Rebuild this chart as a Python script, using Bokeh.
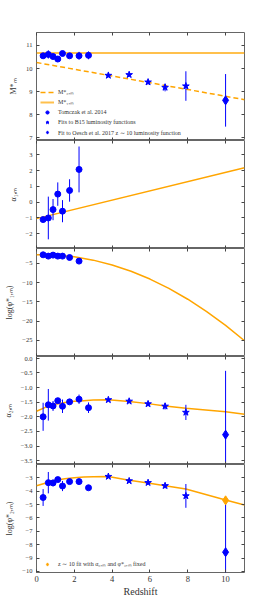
import numpy as np
from bokeh.plotting import figure
from bokeh.models import Range1d, LinearAxis, FixedTicker, CustomJSTickFormatter, Legend, LegendItem
from bokeh.layouts import column
from bokeh.embed import file_html
from bokeh.resources import INLINE

# ---------------- data ----------------
tom_z = [0.35, 0.625, 0.875, 1.125, 1.375, 1.75, 2.25, 2.75]
b15_z = [3.8, 4.9, 5.9, 6.8, 7.9]
oesch_z = [10.0]

# panel 1 : M*_M
tom_m = [10.55, 10.61, 10.52, 10.41, 10.65, 10.55, 10.55, 10.57]
tom_m_err = [0.05, 0.18, 0.08, 0.05, 0.1, 0.05, 0.17, 0.17]
b15_m = [9.70, 9.73, 9.41, 9.18, 9.24]
b15_m_err = [0.08, 0.08, 0.1, 0.17, 0.64]
oesch_m = [8.62]
oesch_m_err = [1.14]
m1_fit_z = [0.0, 11.0]
m1_fit = [10.67, 10.67]
m2_fit_z = [0.0, 11.0]
m2_fit = [10.26, 8.65]

# panel 2 : alpha_1,M
tom_a1_z = [0.35, 0.625, 0.875, 1.125, 1.375, 1.75, 2.25]
tom_a1 = [-1.1, -1.0, -0.47, 0.51, -0.57, 0.74, 2.07]
tom_a1_err = [0.15, 1.35, 0.67, 0.74, 0.7, 0.71, 1.45]
a1_fit_z = [0.0, 11.0]
a1_fit = [-1.04, 2.18]

# panel 3 : log(phi*_1,M)
tom_p1_z = [0.35, 0.625, 0.875, 1.125, 1.375, 1.75, 2.25]
tom_p1 = [-2.74, -3.08, -2.82, -3.08, -3.08, -3.44, -4.38]
p1_fit_z = [0, 1, 2, 3, 4, 5, 6, 7, 8, 9, 10, 11]
p1_fit = [-2.74, -2.81, -3.27, -4.13, -5.38, -7.02, -9.05, -11.47, -14.3, -17.5, -21.1, -25.1]

# panel 4 : alpha_2,M
tom_a2 = [-2.00, -1.59, -1.63, -1.45, -1.64, -1.49, -1.40, -1.69]
tom_a2_err = [0.48, 0.54, 0.17, 0.08, 0.23, 0.08, 0.16, 0.18]
b15_a2 = [-1.42, -1.47, -1.56, -1.64, -1.85]
b15_a2_err = [0.05, 0.06, 0.08, 0.11, 0.26]
oesch_a2 = [-2.61]
oesch_a2_err = [2.18]
a2_fit_z = [0, 0.5, 1, 1.5, 2, 2.5, 3, 3.8, 4.9, 5.9, 6.8, 7.9, 10, 11]
a2_fit = [-1.81, -1.67, -1.57, -1.51, -1.47, -1.45, -1.43, -1.42, -1.48, -1.55, -1.63, -1.71, -1.83, -1.91]

# panel 5 : log(phi*_2,M)
tom_p2 = [-4.47, -3.36, -3.38, -3.13, -3.61, -3.28, -3.28, -3.74]
tom_p2_err = [0.63, 0.8, 0.25, 0.1, 0.38, 0.1, 0.1, 0.15]
b15_p2 = [-2.90, -3.23, -3.36, -3.59, -4.35]
b15_p2_err = [0.06, 0.1, 0.12, 0.2, 0.89]
oesch_p2 = [-8.56]
oesch_p2_err = [3.9]
fixed_z = [10.0]
fixed_p2 = [-4.68]
p2_fit_z = [0, 0.5, 1, 1.5, 2, 2.5, 3, 3.8, 4.9, 5.9, 6.8, 7.9, 10, 11]
p2_fit = [-3.59, -3.38, -3.18, -3.06, -2.99, -2.94, -2.92, -2.90, -3.18, -3.38, -3.59, -3.84, -4.65, -5.03]

x_ticks = [0, 2, 4, 6, 8, 10]

# ---------------- style ----------------
FONT = "Liberation Serif"
BLUE = "#0000ff"
ORANGE = "#ffa500"
FW, FH = 208, 108
BL, BR = 34, 27
TICKC = "#444444"

xr = Range1d(0, 11)


def fmt(digits):
    return CustomJSTickFormatter(code="return tick.toFixed(%d).replace('-', '\\u2212');" % digits)


def bare_axis(loc_ticks):
    ax = LinearAxis(ticker=FixedTicker(ticks=loc_ticks))
    ax.axis_line_color = None
    ax.major_tick_in = 3
    ax.major_tick_out = 0
    ax.major_tick_line_color = TICKC
    ax.minor_tick_line_color = None
    ax.major_label_text_font_size = "0px"
    ax.major_label_text_alpha = 0
    ax.major_label_standoff = 0
    return ax


def make_fig(yr, yticks, ylabel, digits, top_border=0, bottom_border=0, last=False):
    p = figure(x_range=xr, y_range=Range1d(*yr), frame_width=FW, frame_height=FH,
               output_backend="svg", toolbar_location=None,
               x_axis_location=None, y_axis_location=None,
               min_border_left=BL, min_border_right=BR,
               min_border_top=top_border, min_border_bottom=bottom_border)
    p.grid.visible = False
    p.outline_line_color = "#666666"
    p.outline_line_width = 1.0
    p.background_fill_color = "white"
    p.border_fill_color = "white"

    la = LinearAxis(ticker=FixedTicker(ticks=yticks), formatter=fmt(digits))
    la.axis_line_color = None
    la.major_tick_in = 3
    la.major_tick_out = 0
    la.major_tick_line_color = TICKC
    la.minor_tick_line_color = None
    la.major_label_text_font = FONT
    la.major_label_text_font_size = "6.5px"
    la.major_label_text_color = "#333333"
    la.major_label_standoff = 4
    la.axis_label = ylabel
    la.axis_label_text_font = FONT
    la.axis_label_text_font_size = "8px"
    la.axis_label_text_font_style = "normal"
    la.axis_label_text_color = "#333333"
    la.axis_label_standoff = 5
    p.add_layout(la, "left")
    p.add_layout(bare_axis(yticks), "right")
    p.add_layout(bare_axis(x_ticks), "above")
    if last:
        ba = LinearAxis(ticker=FixedTicker(ticks=x_ticks), formatter=fmt(0))
        ba.axis_line_color = None
        ba.major_tick_in = 3
        ba.major_tick_out = 0
        ba.major_tick_line_color = TICKC
        ba.minor_tick_line_color = None
        ba.major_label_text_font = FONT
        ba.major_label_text_font_size = "8.5px"
        ba.major_label_text_color = "#333333"
        ba.major_label_standoff = 3
        ba.axis_label = "Redshift"
        ba.axis_label_text_font = FONT
        ba.axis_label_text_font_size = "10px"
        ba.axis_label_text_font_style = "normal"
        ba.axis_label_text_color = "#333333"
        ba.axis_label_standoff = 1
        p.add_layout(ba, "below")
    else:
        p.add_layout(bare_axis(x_ticks), "below")
    return p


def errbars(p, z, v, e):
    z = np.asarray(z, float)
    v = np.asarray(v, float)
    e = np.asarray(e, float)
    p.segment(x0=z, y0=v - e, x1=z, y1=v + e, line_color=BLUE, line_width=1)


def style_legend(lg):
    lg.background_fill_alpha = 0
    lg.border_line_color = None
    lg.label_text_font = FONT
    lg.label_text_font_size = "6px"
    lg.label_text_color = "#333333"
    lg.glyph_width = 14
    lg.glyph_height = 8
    lg.label_height = 8
    lg.label_standoff = 4
    lg.spacing = 2
    lg.padding = 2
    lg.margin = 4


# ---------------- panel 1 ----------------
p1 = make_fig((6.88, 11.56), [7, 8, 9, 10, 11], "M*ₘ", 0, top_border=32)
r_m2 = p1.line(m2_fit_z, m2_fit, line_color=ORANGE, line_width=1.5, line_dash="5 3")
r_m1 = p1.line(m1_fit_z, m1_fit, line_color=ORANGE, line_alpha=0.7, line_width=2)
errbars(p1, tom_z, tom_m, tom_m_err)
errbars(p1, b15_z, b15_m, b15_m_err)
errbars(p1, oesch_z, oesch_m, oesch_m_err)
r_t = p1.scatter(tom_z, tom_m, marker="circle", size=6, color=BLUE)
r_b = p1.scatter(b15_z, b15_m, marker="star", size=7, color=BLUE)
r_o = p1.scatter(oesch_z, oesch_m, marker="diamond", size=9, color=BLUE)
lg1 = Legend(items=[
    LegendItem(label="M*₂,ₘ", renderers=[r_m2]),
    LegendItem(label="M*₁,ₘ", renderers=[r_m1]),
    LegendItem(label="Tomczak et al. 2014", renderers=[r_t]),
    LegendItem(label="Fits to B15 luminosity functions", renderers=[r_b]),
    LegendItem(label="Fit to Oesch et al. 2017 z ∼ 10 luminosity function", renderers=[r_o]),
], location="bottom_left")
style_legend(lg1)
p1.add_layout(lg1)

# ---------------- panel 2 ----------------
p2 = make_fig((-2.93, 3.9), [-2, -1, 0, 1, 2, 3], "α₁,ₘ", 0)
p2.line(a1_fit_z, a1_fit, line_color=ORANGE, line_width=1.5)
errbars(p2, tom_a1_z, tom_a1, tom_a1_err)
p2.scatter(tom_a1_z, tom_a1, marker="circle", size=6, color=BLUE)

# ---------------- panel 3 ----------------
p3 = make_fig((-29.2, -1.1), [-25, -20, -15, -10, -5], "log(φ*₁,ₘ)", 0)
p3.line(p1_fit_z, p1_fit, line_color=ORANGE, line_width=1.5)
p3.scatter(tom_p1_z, tom_p1, marker="circle", size=6, color=BLUE)

# ---------------- panel 4 ----------------
p4 = make_fig((-3.63, 0.06), [-3.5, -3.0, -2.5, -2.0, -1.5, -1.0, -0.5, 0.0], "α₂,ₘ", 1)
p4.line(a2_fit_z, a2_fit, line_color=ORANGE, line_width=1.5)
errbars(p4, tom_z, tom_a2, tom_a2_err)
errbars(p4, b15_z, b15_a2, b15_a2_err)
errbars(p4, oesch_z, oesch_a2, oesch_a2_err)
p4.scatter(tom_z, tom_a2, marker="circle", size=6, color=BLUE)
p4.scatter(b15_z, b15_a2, marker="star", size=7, color=BLUE)
p4.scatter(oesch_z, oesch_a2, marker="diamond", size=9, color=BLUE)

# ---------------- panel 5 ----------------
p5 = make_fig((-10.08, -2.0), [-10, -9, -8, -7, -6, -5, -4, -3], "log(φ*₂,ₘ)", 0, last=True)
p5.line(p2_fit_z, p2_fit, line_color=ORANGE, line_width=1.5)
errbars(p5, tom_z, tom_p2, tom_p2_err)
errbars(p5, b15_z, b15_p2, b15_p2_err)
errbars(p5, oesch_z, oesch_p2, oesch_p2_err)
p5.scatter(tom_z, tom_p2, marker="circle", size=6, color=BLUE)
p5.scatter(b15_z, b15_p2, marker="star", size=7, color=BLUE)
p5.scatter(oesch_z, oesch_p2, marker="diamond", size=9, color=BLUE)
r_f = p5.scatter(fixed_z, fixed_p2, marker="diamond", size=9, color=ORANGE)
lg5 = Legend(items=[LegendItem(label="z ∼ 10 fit with α₂,ₘ and φ*₂,ₘ fixed", renderers=[r_f])],
             location="bottom_left")
style_legend(lg5)
p5.add_layout(lg5)

layout = column(p1, p2, p3, p4, p5, spacing=0)
open("out.html", "w").write(file_html(layout, INLINE))
